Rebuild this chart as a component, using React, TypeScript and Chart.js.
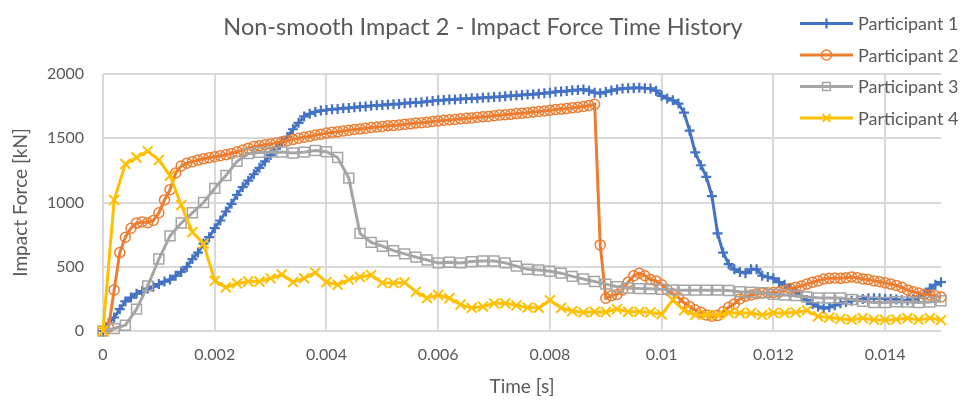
import React, { useEffect, useRef } from 'react';
import { Chart, registerables } from 'chart.js';

Chart.register(...registerables);

const TITLE = 'Non-smooth Impact 2 - Impact Force Time History';
const X_TITLE = 'Time [s]';
const Y_TITLE = 'Impact Force [kN]';
const SERIES_NAMES = ['Participant 1', 'Participant 2', 'Participant 3', 'Participant 4'];
const SERIES_COLORS = ['#4472C4', '#ED7D31', '#A5A5A5', '#FFC000'];

const X_MIN = 0;
const X_MAX = 0.015;
const X_STEP = 0.002;
const Y_MIN = 0;
const Y_MAX = 2000;
const Y_STEP = 500;

// sampling interval (s) of each participant's record
const DT_P1 = 0.0001;
const DT_P2 = 0.0001;
const DT_P3 = 0.0002;
const DT_P4 = 0.0002;

// Impact force [kN]
const P1 = [
  0, 60, 105, 170, 230, 260, 290, 310, 330, 345,
  365, 385, 400, 430, 460, 500, 560, 610, 680, 730,
  800, 860, 930, 990, 1060, 1120, 1170, 1220, 1270, 1320,
  1370, 1420, 1470, 1510, 1570, 1620, 1670, 1690, 1705, 1715,
  1720, 1726, 1728, 1733, 1736, 1741, 1745, 1747, 1752, 1756,
  1758, 1763, 1765, 1767, 1772, 1776, 1778, 1781, 1786, 1790,
  1795, 1797, 1801, 1802, 1806, 1808, 1811, 1812, 1816, 1818,
  1821, 1823, 1827, 1830, 1832, 1837, 1840, 1842, 1847, 1850,
  1855, 1861, 1864, 1867, 1873, 1876, 1880, 1870, 1855, 1850,
  1860, 1871, 1880, 1888, 1890, 1892, 1893, 1890, 1888, 1870,
  1830, 1810, 1795, 1770, 1700, 1560, 1390, 1290, 1200, 1050,
  760, 610, 520, 480, 460, 450, 480, 480, 430, 420,
  410, 380, 360, 330, 300, 270, 240, 210, 190, 175,
  185, 200, 215, 225, 235, 245, 250, 255, 255, 255,
  250, 250, 245, 240, 240, 245, 260, 290, 330, 360, 380,
];

const P2 = [
  0, 30, 320, 610, 730, 800, 840, 848, 842, 860,
  920, 1020, 1100, 1230, 1285, 1305, 1318, 1330, 1340, 1348,
  1356, 1364, 1372, 1382, 1395, 1408, 1422, 1435, 1442, 1449,
  1455, 1464, 1473, 1481, 1491, 1500, 1508, 1516, 1525, 1532,
  1540, 1546, 1550, 1557, 1562, 1568, 1572, 1578, 1584, 1588,
  1592, 1597, 1600, 1603, 1608, 1612, 1618, 1621, 1625, 1630,
  1635, 1640, 1643, 1646, 1652, 1655, 1658, 1664, 1667, 1670,
  1675, 1680, 1683, 1686, 1692, 1695, 1699, 1705, 1708, 1712,
  1718, 1724, 1727, 1731, 1738, 1742, 1747, 1755, 1765, 670,
  255, 275, 285, 320, 380, 430, 450, 430, 400, 390,
  360, 320, 290, 260, 220, 190, 165, 145, 125, 115,
  120, 150, 185, 210, 250, 270, 280, 290, 295, 298,
  300, 303, 315, 330, 340, 350, 365, 380, 390, 405,
  410, 412, 410, 415, 420, 415, 405, 400, 390, 383,
  375, 365, 355, 340, 320, 305, 295, 285, 280, 275, 265,
];

const P3 = [
  0, 20, 45, 170, 350, 560, 740, 840, 920, 1000,
  1110, 1210, 1320, 1380, 1390, 1392, 1393, 1385, 1392, 1405,
  1395, 1350, 1190, 760, 690, 660, 625, 600, 575, 552,
  530, 535, 530, 540, 545, 545, 530, 505, 480, 475,
  465, 450, 425, 405, 385, 365, 345, 335, 330, 328,
  325, 320, 318, 318, 318, 318, 315, 305, 302, 298,
  285, 280, 275, 265, 258, 257, 257, 245, 232, 222,
  222, 228, 226, 222, 225, 235,
];

const P4 = [
  0, 1020, 1300, 1350, 1400, 1330, 1210, 980, 770, 680,
  390, 340, 370, 385, 385, 410, 440, 380, 410, 455,
  380, 360, 400, 420, 435, 375, 373, 378, 305, 257,
  280, 255, 205, 180, 190, 215, 215, 200, 182, 180,
  240, 180, 155, 145, 150, 148, 170, 150, 150, 145,
  130, 240, 160, 125, 125, 125, 140, 140, 140, 125,
  140, 140, 145, 160, 115, 105, 95, 88, 100, 88,
  86, 90, 100, 88, 100, 85,
];

const SERIES = [P1, P2, P3, P4];
const SERIES_DT = [DT_P1, DT_P2, DT_P3, DT_P4];
const POINT_STYLES = ['cross', 'circle', 'rect', 'crossRot'];
const POINT_RADII = [5, 5, 7, 7];
const POINT_BORDER = [2.2, 1.5, 1.5, 2];

const TEXT_COLOR = '#595959';
const FONT = 'Lato, "Open Sans", sans-serif';

const toXY = (vals: number[], dt: number) =>
  vals.map((y, i) => ({ x: Math.round(i * dt * 1e5) / 1e5, y }));

function drawMarker(ctx: CanvasRenderingContext2D, style: string, x: number, y: number, r: number, color: string, bw: number) {
  ctx.save();
  ctx.strokeStyle = color;
  ctx.lineWidth = bw;
  ctx.beginPath();
  if (style === 'cross') {
    ctx.moveTo(x - r, y); ctx.lineTo(x + r, y);
    ctx.moveTo(x, y - r); ctx.lineTo(x, y + r);
  } else if (style === 'circle') {
    ctx.arc(x, y, r, 0, Math.PI * 2);
  } else if (style === 'rect') {
    const s = r * Math.SQRT1_2;
    ctx.rect(x - s, y - s, 2 * s, 2 * s);
  } else if (style === 'crossRot') {
    const s = r * Math.SQRT1_2;
    ctx.moveTo(x - s, y - s); ctx.lineTo(x + s, y + s);
    ctx.moveTo(x - s, y + s); ctx.lineTo(x + s, y - s);
  }
  ctx.stroke();
  ctx.restore();
}

const overlayPlugin = {
  id: 'overlay',
  afterDraw(chart: any) {
    const ctx = chart.ctx as CanvasRenderingContext2D;
    ctx.save();
    // title
    ctx.fillStyle = TEXT_COLOR;
    ctx.font = `23.5px ${FONT}`;
    ctx.textAlign = 'center';
    ctx.textBaseline = 'middle';
    ctx.fillText(TITLE, 475, 19);
    // legend
    ctx.textAlign = 'left';
    ctx.font = `18px ${FONT}`;
    SERIES_NAMES.forEach((name, k) => {
      const y = 15.5 + k * 31.5;
      ctx.strokeStyle = SERIES_COLORS[k];
      ctx.lineWidth = 3;
      ctx.beginPath();
      ctx.moveTo(792, y);
      ctx.lineTo(845, y);
      ctx.stroke();
      drawMarker(ctx, POINT_STYLES[k], 818.5, y, Math.min(POINT_RADII[k], 5.5), SERIES_COLORS[k], POINT_BORDER[k]);
      ctx.fillStyle = TEXT_COLOR;
      ctx.fillText(name, 850, y + 1);
    });
    ctx.restore();
  },
};

export default function App() {
  const ref = useRef<HTMLCanvasElement | null>(null);

  useEffect(() => {
    if (!ref.current) return;
    const datasets = SERIES.map((vals, k) => ({
      label: SERIES_NAMES[k],
      data: toXY(vals, SERIES_DT[k]),
      borderColor: SERIES_COLORS[k],
      backgroundColor: SERIES_COLORS[k],
      borderWidth: 3,
      pointStyle: POINT_STYLES[k],
      pointRadius: POINT_RADII[k],
      pointBorderWidth: POINT_BORDER[k],
      pointBorderColor: SERIES_COLORS[k],
      pointBackgroundColor: 'rgba(0,0,0,0)',
      tension: 0,
      clip: false as any,
      order: 4 - k,
    }));

    const chart = new Chart(ref.current, {
      type: 'line',
      data: { datasets },
      plugins: [overlayPlugin],
      options: {
        animation: false,
        responsive: true,
        maintainAspectRatio: false,
        layout: { padding: { top: 66, right: 21, left: 0, bottom: 0 } },
        plugins: {
          legend: { display: false },
          title: { display: false },
          tooltip: { enabled: false },
        },
        scales: {
          x: {
            type: 'linear',
            min: X_MIN,
            max: X_MAX,
            border: { display: false },
            grid: { color: '#d9d9d9', lineWidth: 2, drawTicks: false },
            ticks: {
              stepSize: X_STEP,
              includeBounds: false,
              autoSkip: false,
              maxRotation: 0,
              padding: 14,
              color: TEXT_COLOR,
              font: { family: FONT, size: 16 },
              callback: (v: any) => String(Number(Number(v).toFixed(4))),
            },
            title: {
              display: true,
              text: X_TITLE,
              color: TEXT_COLOR,
              font: { family: FONT, size: 19, lineHeight: 1 },
              padding: { top: 0, bottom: 0 },
            },
            afterFit: (s: any) => { s.height = 65; },
          },
          y: {
            type: 'linear',
            min: Y_MIN,
            max: Y_MAX,
            border: { display: false },
            grid: { color: '#d9d9d9', lineWidth: 2, drawTicks: false },
            ticks: {
              stepSize: Y_STEP,
              padding: 19,
              color: TEXT_COLOR,
              font: { family: FONT, size: 16 },
              callback: (v: any) => String(v),
            },
            title: {
              display: true,
              text: Y_TITLE,
              color: TEXT_COLOR,
              font: { family: FONT, size: 19, lineHeight: 1 },
              padding: { top: 3, bottom: 0 },
            },
            afterFit: (s: any) => { s.width = 95; },
          },
        },
      },
    });
    return () => chart.destroy();
  }, []);

  return (
    <div style={{ position: 'relative', width: 954, height: 388 }}>
      <canvas ref={ref} />
    </div>
  );
}
